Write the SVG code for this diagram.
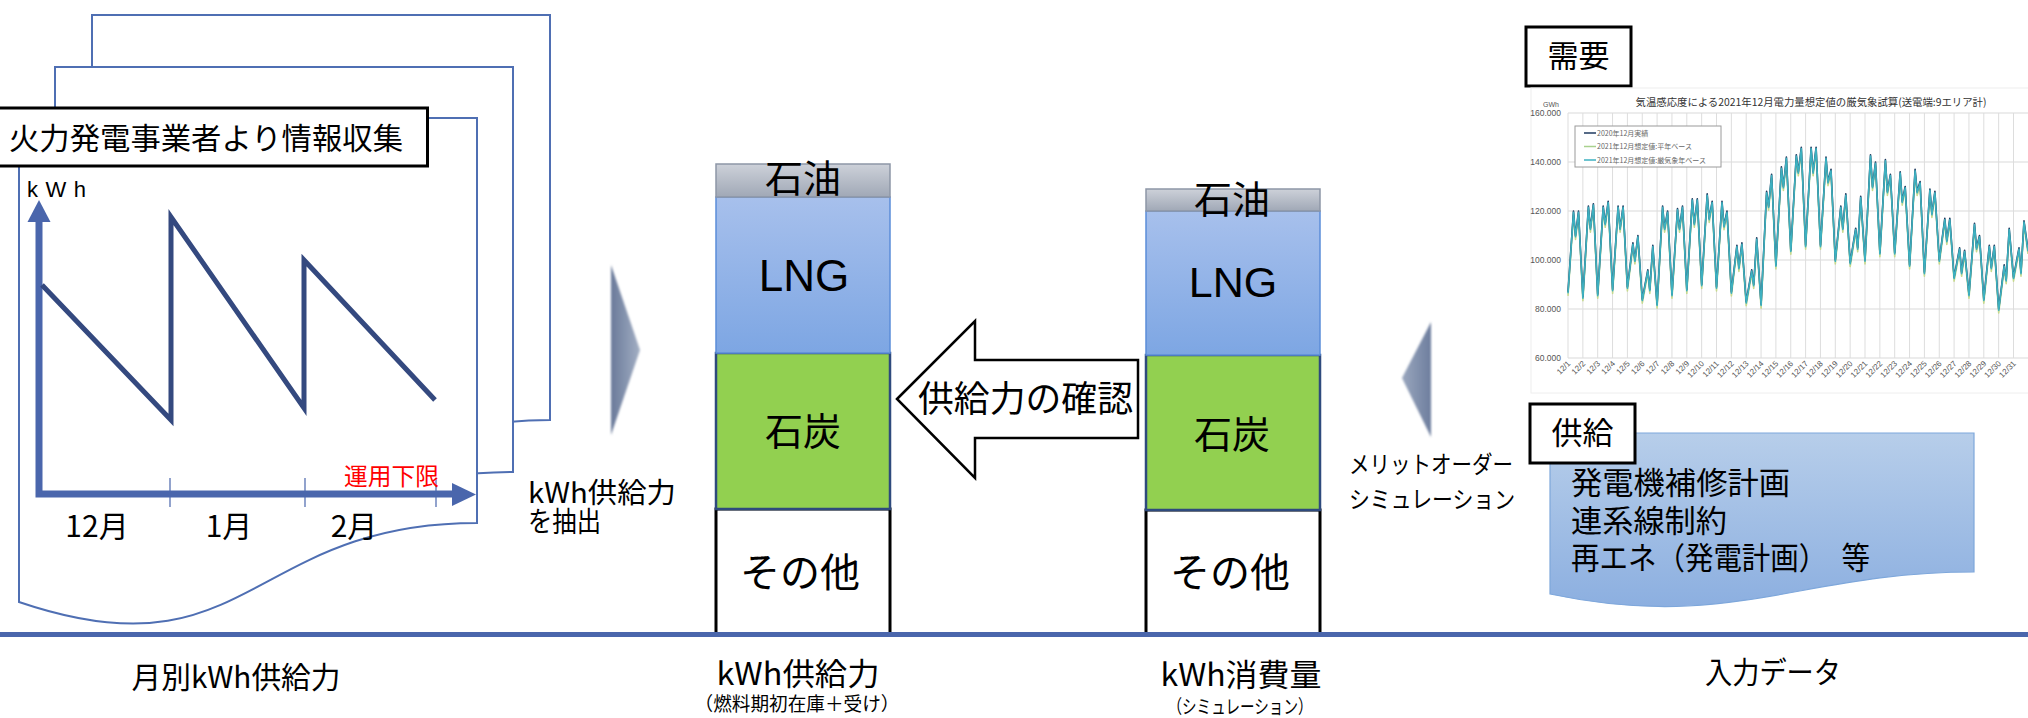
<svg xmlns="http://www.w3.org/2000/svg" width="2028" height="718" viewBox="0 0 2028 718">
<defs>
<style>
.jp{font-family:'Noto Sans CJK JP','Noto Sans',sans-serif;fill:#000}
.lat{font-family:'Liberation Sans',Arial,sans-serif;fill:#000}
.page{fill:#fff;stroke:#4F6FB3;stroke-width:2}
.box{fill:#fff;stroke:#000;stroke-width:3}
.dl{font-family:'Liberation Sans',Arial,sans-serif;font-size:8px;fill:#555;text-anchor:end}
.yl{font-family:'Liberation Sans',Arial,sans-serif;font-size:8.5px;fill:#555;text-anchor:end}
.lg{font-family:'Noto Sans CJK JP',sans-serif;font-size:7px;fill:#666}
.mid{text-anchor:middle}
</style>
<linearGradient id="gOil" x1="0" y1="0" x2="0" y2="1"><stop offset="0" stop-color="#CDD1D9"/><stop offset="1" stop-color="#A0A8B6"/></linearGradient>
<linearGradient id="gLng" x1="0" y1="0" x2="0" y2="1"><stop offset="0" stop-color="#A7C0EC"/><stop offset="1" stop-color="#7DA6E3"/></linearGradient>
<linearGradient id="gCh1" x1="0" y1="0" x2="1" y2="0"><stop offset="0" stop-color="#6A7A9A"/><stop offset="1" stop-color="#A3AFC4"/></linearGradient>
<linearGradient id="gCh2" x1="0" y1="0" x2="1" y2="0"><stop offset="0" stop-color="#9AA7BE"/><stop offset="1" stop-color="#6E7E9E"/></linearGradient>
<linearGradient id="gDoc" x1="0" y1="0" x2="0" y2="1"><stop offset="0" stop-color="#B7CEEA"/><stop offset="1" stop-color="#8CAFE0"/></linearGradient>
<filter id="soft" x="-30%" y="-10%" width="160%" height="120%"><feGaussianBlur stdDeviation="1"/></filter>
<path id="page" d="M19,118 H477 V523 C248,523 248,680 19,602 Z"/>
<path id="demand" fill="none" stroke-linejoin="round" d="M1568,291.9 L1573.5,211 1575.5,235.5 1578.5,211 1582.9,296.8 1588.4,206.1 1590.4,228.2 1593.4,203.7 1597.7,294.3 1603.2,206.1 1605.2,223.3 1608.2,201.2 1612.6,289.4 1618.1,206.1 1620.1,228.2 1623.1,206.1 1627.4,287 1632.9,242.9 1634.9,260 1637.9,235.5 1642.3,299.2 1647.8,269.8 1649.8,289.4 1652.8,245.3 1657.1,304.1 1662.6,206.1 1664.6,228.2 1667.6,211 1672,294.3 1677.5,208.6 1679.5,228.2 1682.5,206.1 1686.8,289.4 1692.3,198.8 1694.3,223.3 1697.3,198.8 1701.7,284.5 1707.2,193.9 1709.2,218.4 1712.2,201.2 1716.5,287 1722,201.2 1724,225.7 1727,211 1731.4,291.9 1736.9,245.3 1738.9,267.4 1741.9,242.9 1746.2,301.7 1751.7,269.8 1753.7,284.5 1756.7,237.9 1761.1,304.1 1766.6,191.4 1768.6,206.1 1771.6,174.3 1775.9,264.9 1781.4,166.9 1783.4,186.5 1786.4,157.1 1790.8,250.2 1796.3,154.7 1798.3,171.8 1801.3,147.3 1805.6,245.3 1811.1,147.3 1813.1,171.8 1816.1,147.3 1820.5,245.3 1826,157.1 1828,181.6 1831,169.4 1835.3,260 1840.8,206.1 1842.8,228.2 1845.8,193.9 1850.2,262.5 1855.7,228.2 1857.7,247.8 1860.7,196.3 1865,260 1870.5,154.7 1872.5,186.5 1875.5,162 1879.9,252.7 1885.4,159.6 1887.4,191.4 1890.4,174.3 1894.7,252.7 1900.2,171.8 1902.2,201.2 1905.2,186.5 1909.6,264.9 1915.1,169.4 1917.1,191.4 1920.1,181.6 1924.4,272.3 1929.9,189 1931.9,213.5 1934.9,191.4 1939.3,260 1944.8,218.4 1946.8,240.4 1949.8,218.4 1954.1,277.2 1959.6,247.8 1961.6,272.3 1964.6,250.2 1969,294.3 1974.5,223.3 1976.5,247.8 1979.5,235.5 1983.8,299.2 1989.3,245.3 1991.3,267.4 1994.3,245.3 1998.7,309 2004.2,264.9 2006.2,279.6 2009.2,228.2 2013.5,277.2 2019,247.8 2021,272.3 2024,220.8 2028,250"/>
</defs>
<rect width="2028" height="718" fill="#fff"/>

<!-- Monthly kWh supply (document stack) -->
<g id="node-monthly">
<use href="#page" class="page" transform="translate(73,-103)"/>
<use href="#page" class="page" transform="translate(36,-51)"/>
<use href="#page" class="page"/>
<rect x="-3" y="108" width="430.5" height="58" class="box"/>
<text x="9" y="149" class="jp" font-size="30" textLength="394" lengthAdjust="spacingAndGlyphs">火力発電事業者より情報収集</text>
<text x="27" y="197" class="lat" font-size="22" textLength="59">kWh</text>
<path d="M170,478V507M305,478V507M436,478V507" stroke="#4A66AC" stroke-width="1.2" fill="none"/>
<path d="M39,222 V494 H454" stroke="#4A66AC" stroke-width="7" fill="none" stroke-linejoin="miter"/>
<polygon points="27.5,222 50.5,222 39,200" fill="#4A66AC"/>
<polygon points="452,483 452,506 476,494.5" fill="#4A66AC"/>
<polyline points="42,285 171,420 171,217 304,408 304,260 435,400" fill="none" stroke="#34497F" stroke-width="5" stroke-linejoin="miter" stroke-miterlimit="10"/>
<text x="344" y="485" class="jp" font-size="24" fill="#FF0000" style="fill:#FF0000" textLength="95" lengthAdjust="spacingAndGlyphs">運用下限</text>
<text x="97" y="537" class="jp mid" font-size="30">12月</text>
<text x="229" y="537" class="jp mid" font-size="30">1月</text>
<text x="354" y="537" class="jp mid" font-size="30">2月</text>
</g>

<!-- Supply kWh bar -->
<g id="node-supply-bar">
<rect x="716" y="509" width="174" height="126" fill="#fff" stroke="#000" stroke-width="3"/>
<rect x="716" y="353" width="174" height="156" fill="#92D050" stroke="#2E4A7D" stroke-width="2.5"/>
<rect x="716" y="197" width="174" height="156" fill="url(#gLng)" stroke="#5B8DD9" stroke-width="1.5"/>
<rect x="716" y="164" width="174" height="33" fill="url(#gOil)" stroke="#8D96A6" stroke-width="1.5"/>
<text x="803" y="192" class="jp mid" font-size="38">石油</text>
<text x="804" y="291" class="lat mid" font-size="44">LNG</text>
<text x="803" y="445" class="jp mid" font-size="38">石炭</text>
<text x="800" y="587" class="jp mid" font-size="40">その他</text>
</g>

<!-- Consumption kWh bar -->
<g id="node-consumption-bar">
<rect x="1146" y="510" width="174" height="125" fill="#fff" stroke="#000" stroke-width="3"/>
<rect x="1146" y="355" width="174" height="155" fill="#92D050" stroke="#2E4A7D" stroke-width="2.5"/>
<rect x="1146" y="211" width="174" height="144" fill="url(#gLng)" stroke="#5B8DD9" stroke-width="1.5"/>
<rect x="1146" y="189" width="174" height="22" fill="url(#gOil)" stroke="#8D96A6" stroke-width="1.5"/>
<text x="1232" y="213" class="jp mid" font-size="38">石油</text>
<text x="1233" y="297" class="lat mid" font-size="43">LNG</text>
<text x="1232" y="448" class="jp mid" font-size="38">石炭</text>
<text x="1230" y="587" class="jp mid" font-size="40">その他</text>
</g>

<!-- Input data: demand chart -->
<g id="node-demand">
<rect x="1526" y="27" width="105" height="59" class="box"/>
<text x="1578.5" y="67" class="jp mid" font-size="31">需要</text>
<rect x="1531" y="88" width="500" height="305" fill="#fff" stroke="#EEEEEE" stroke-width="1"/>
<text x="1811" y="106" class="jp mid" font-size="10.5" fill="#333" style="fill:#333" textLength="351" lengthAdjust="spacingAndGlyphs">気温感応度による2021年12月電力量想定値の厳気象試算(送電端:9エリア計)</text>
<path d="M1568,113H2028M1568,162H2028M1568,211H2028M1568,260H2028M1568,309H2028M1568,358H2028" stroke="#D9D9D9" stroke-width="1" fill="none"/>
<path d="M1568,113V358M1582.85,113V358M1597.7,113V358M1612.55,113V358M1627.4,113V358M1642.25,113V358M1657.1,113V358M1671.95,113V358M1686.8,113V358M1701.65,113V358M1716.5,113V358M1731.35,113V358M1746.2,113V358M1761.05,113V358M1775.9,113V358M1790.75,113V358M1805.6,113V358M1820.45,113V358M1835.3,113V358M1850.15,113V358M1865,113V358M1879.85,113V358M1894.7,113V358M1909.55,113V358M1924.4,113V358M1939.25,113V358M1954.1,113V358M1968.95,113V358M1983.8,113V358M1998.65,113V358M2013.5,113V358" stroke="#DDDDDD" stroke-width="1" fill="none"/>
<text x="1551" y="107" class="yl" font-size="7" style="font-size:7px;text-anchor:middle">GWh</text>
<text x="1561" y="116" class="yl">160.000</text>
<text x="1561" y="165" class="yl">140.000</text>
<text x="1561" y="214" class="yl">120.000</text>
<text x="1561" y="263" class="yl">100.000</text>
<text x="1561" y="312" class="yl">80.000</text>
<text x="1561" y="361" class="yl">60.000</text>
<use href="#demand" stroke="#C7DA8E" stroke-width="1.6" transform="translate(0,4)"/>
<use href="#demand" stroke="#1F3A5F" stroke-width="1.6"/>
<use href="#demand" stroke="#3DB0C0" stroke-width="1.6" transform="translate(0,1.3)"/>
<rect x="1575" y="126" width="146" height="41" fill="#fff" stroke="#9A9A9A" stroke-width="1"/>
<path d="M1584,133H1596" stroke="#1F3A5F" stroke-width="1.5"/>
<path d="M1584,146.5H1596" stroke="#A9D18E" stroke-width="1.5"/>
<path d="M1584,160H1596" stroke="#3DB0C0" stroke-width="1.5"/>
<text x="1597" y="135.5" class="lg">2020年12月実績</text>
<text x="1597" y="149" class="lg">2021年12月想定値:平年ベース</text>
<text x="1597" y="162.5" class="lg">2021年12月想定値:厳気象年ベース</text>
<text class="dl" transform="translate(1571,364) rotate(-45)">12/1</text>
<text class="dl" transform="translate(1585.85,364) rotate(-45)">12/2</text>
<text class="dl" transform="translate(1600.7,364) rotate(-45)">12/3</text>
<text class="dl" transform="translate(1615.55,364) rotate(-45)">12/4</text>
<text class="dl" transform="translate(1630.4,364) rotate(-45)">12/5</text>
<text class="dl" transform="translate(1645.25,364) rotate(-45)">12/6</text>
<text class="dl" transform="translate(1660.1,364) rotate(-45)">12/7</text>
<text class="dl" transform="translate(1674.95,364) rotate(-45)">12/8</text>
<text class="dl" transform="translate(1689.8,364) rotate(-45)">12/9</text>
<text class="dl" transform="translate(1704.65,364) rotate(-45)">12/10</text>
<text class="dl" transform="translate(1719.5,364) rotate(-45)">12/11</text>
<text class="dl" transform="translate(1734.35,364) rotate(-45)">12/12</text>
<text class="dl" transform="translate(1749.2,364) rotate(-45)">12/13</text>
<text class="dl" transform="translate(1764.05,364) rotate(-45)">12/14</text>
<text class="dl" transform="translate(1778.9,364) rotate(-45)">12/15</text>
<text class="dl" transform="translate(1793.75,364) rotate(-45)">12/16</text>
<text class="dl" transform="translate(1808.6,364) rotate(-45)">12/17</text>
<text class="dl" transform="translate(1823.45,364) rotate(-45)">12/18</text>
<text class="dl" transform="translate(1838.3,364) rotate(-45)">12/19</text>
<text class="dl" transform="translate(1853.15,364) rotate(-45)">12/20</text>
<text class="dl" transform="translate(1868,364) rotate(-45)">12/21</text>
<text class="dl" transform="translate(1882.85,364) rotate(-45)">12/22</text>
<text class="dl" transform="translate(1897.7,364) rotate(-45)">12/23</text>
<text class="dl" transform="translate(1912.55,364) rotate(-45)">12/24</text>
<text class="dl" transform="translate(1927.4,364) rotate(-45)">12/25</text>
<text class="dl" transform="translate(1942.25,364) rotate(-45)">12/26</text>
<text class="dl" transform="translate(1957.1,364) rotate(-45)">12/27</text>
<text class="dl" transform="translate(1971.95,364) rotate(-45)">12/28</text>
<text class="dl" transform="translate(1986.8,364) rotate(-45)">12/29</text>
<text class="dl" transform="translate(2001.65,364) rotate(-45)">12/30</text>
<text class="dl" transform="translate(2016.5,364) rotate(-45)">12/31</text>
</g>

<!-- Input data: supply -->
<g id="node-supply-input">
<path d="M1550,433 H1974 V572 C1800,572 1730,632 1550,594 Z" fill="url(#gDoc)" stroke="#7EA7DB" stroke-width="1.2"/>
<rect x="1530" y="404" width="105" height="59" class="box"/>
<text x="1582.5" y="444" class="jp mid" font-size="31">供給</text>
<text x="1571" y="494" class="jp" font-size="31" textLength="219" lengthAdjust="spacingAndGlyphs">発電機補修計画</text>
<text x="1571" y="532" class="jp" font-size="31" textLength="156" lengthAdjust="spacingAndGlyphs">連系線制約</text>
<text x="1571" y="569" class="jp" font-size="31" textLength="299" lengthAdjust="spacingAndGlyphs">再エネ（発電計画）　等</text>
</g>

<!-- Connectors -->
<g id="connectors">
<polygon points="611,265 640,350 611,435" fill="url(#gCh1)" filter="url(#soft)"/>
<polygon points="1431,322 1402,378 1431,437" fill="url(#gCh2)" filter="url(#soft)"/>
<polygon points="897,399 975,321 975,360 1138,360 1138,438 975,438 975,478" fill="#fff" stroke="#000" stroke-width="2.5" stroke-linejoin="miter"/>
<text x="918" y="412" class="jp" font-size="36" textLength="215" lengthAdjust="spacingAndGlyphs">供給力の確認</text>
<text x="528" y="503" class="jp" font-size="28" textLength="148" lengthAdjust="spacingAndGlyphs">kWh供給力</text>
<text x="528" y="532" class="jp" font-size="28" textLength="73" lengthAdjust="spacingAndGlyphs">を抽出</text>
<text x="1349" y="473" class="jp" font-size="24" textLength="164" lengthAdjust="spacingAndGlyphs">メリットオーダー</text>
<text x="1349" y="508" class="jp" font-size="24" textLength="166" lengthAdjust="spacingAndGlyphs">シミュレーション</text>
</g>

<!-- Baseline and captions -->
<g id="captions">
<rect x="0" y="632" width="2028" height="5" fill="#4A66AC"/>
<text x="236" y="688" class="jp mid" font-size="30" textLength="209" lengthAdjust="spacingAndGlyphs">月別kWh供給力</text>
<text x="798" y="685" class="jp mid" font-size="31" textLength="163" lengthAdjust="spacingAndGlyphs">kWh供給力</text>
<text x="797" y="711" class="jp mid" font-size="19" textLength="205" lengthAdjust="spacingAndGlyphs">（燃料期初在庫＋受け）</text>
<text x="1241" y="686" class="jp mid" font-size="31" textLength="161" lengthAdjust="spacingAndGlyphs">kWh消費量</text>
<text x="1240" y="714" class="jp mid" font-size="19" textLength="145" lengthAdjust="spacingAndGlyphs">（シミュレーション）</text>
<text x="1773" y="683" class="jp mid" font-size="30" textLength="136" lengthAdjust="spacingAndGlyphs">入力データ</text>
</g>
</svg>
